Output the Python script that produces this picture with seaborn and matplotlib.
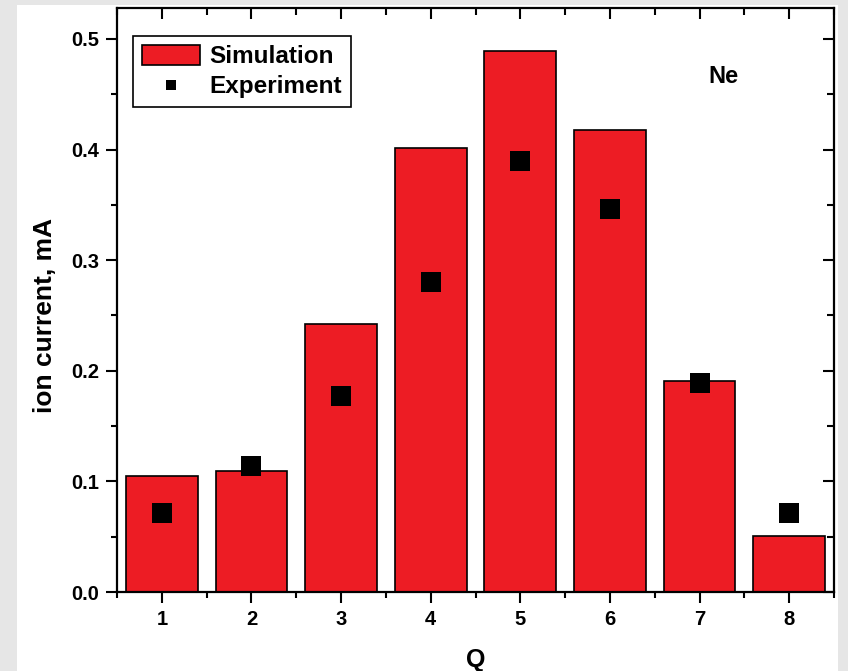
import matplotlib
matplotlib.use("Agg")
import matplotlib.pyplot as plt
from matplotlib.patches import Rectangle
from matplotlib.ticker import MultipleLocator, FormatStrFormatter
import seaborn as sns
import pandas as pd

# Charge states and ion currents (mA)
charge_states = [1, 2, 3, 4, 5, 6, 7, 8]
simulation = [0.105, 0.109, 0.242, 0.401, 0.489, 0.418, 0.191, 0.051]
experiment = [0.071, 0.114, 0.177, 0.280, 0.390, 0.346, 0.189, 0.071]

df = pd.DataFrame({"Q": charge_states, "sim": simulation, "exp": experiment})

sns.set_theme(style="white")
plt.rcParams["font.family"] = ["Liberation Sans", "DejaVu Sans"]
plt.rcParams["font.weight"] = "bold"
for key in ["text.color", "axes.labelcolor", "xtick.color", "ytick.color"]:
    plt.rcParams[key] = "black"

fig = plt.figure(figsize=(8.48, 6.71), dpi=100)
fig.patch.set_facecolor("#e6e6e6")
fig.patches.append(Rectangle((17 / 848, 0), (838 - 17) / 848, 1 - 5 / 671,
                             transform=fig.transFigure, facecolor="white",
                             edgecolor="none", zorder=-10))

ax = fig.add_axes([117 / 848, 79 / 671, (834 - 117) / 848, (592 - 8) / 671])
ax.set_facecolor("white")

sns.barplot(data=df, x="Q", y="sim", native_scale=True, width=0.8,
            color="#ED1C24", saturation=1, edgecolor="black", linewidth=1.2,
            ax=ax, label="Simulation", zorder=2)
sns.scatterplot(data=df, x="Q", y="exp", marker="s", s=210, color="black",
                linewidth=0, ax=ax, label="Experiment", zorder=3)

ax.set_xlim(0.5, 8.5)
ax.set_ylim(0, 0.528)

ax.xaxis.set_major_locator(MultipleLocator(1))
ax.xaxis.set_minor_locator(MultipleLocator(0.5))
ax.yaxis.set_major_locator(MultipleLocator(0.1))
ax.yaxis.set_minor_locator(MultipleLocator(0.05))
ax.yaxis.set_major_formatter(FormatStrFormatter("%.1f"))

ax.tick_params(which="major", direction="out", length=8, width=1.5,
               labelsize=14.5, pad=5, color="black", labelcolor="black",
               bottom=True, left=True)
ax.tick_params(which="minor", direction="out", length=4, width=1.5,
               color="black", bottom=True, left=True)
for lbl in ax.get_xticklabels() + ax.get_yticklabels():
    lbl.set_fontweight("bold")

for side in ["top", "bottom", "left", "right"]:
    ax.spines[side].set_visible(True)
    ax.spines[side].set_color("black")
    ax.spines[side].set_linewidth(1.6)

# Inward ticks along the top and right edges
top = ax.secondary_xaxis("top")
top.xaxis.set_major_locator(MultipleLocator(1))
top.xaxis.set_minor_locator(MultipleLocator(0.5))
top.tick_params(which="major", direction="in", length=8, width=1.5, labeltop=False)
top.tick_params(which="minor", direction="in", length=5, width=1.5)
top.spines["top"].set_visible(False)

right = ax.secondary_yaxis("right")
right.yaxis.set_major_locator(MultipleLocator(0.1))
right.yaxis.set_minor_locator(MultipleLocator(0.05))
right.tick_params(which="major", direction="in", length=8, width=1.5, labelright=False)
right.tick_params(which="minor", direction="in", length=5, width=1.5)
right.spines["right"].set_visible(False)

ax.set_xlabel("Q", fontsize=18, fontweight="bold", labelpad=14, color="black")
ax.set_ylabel("ion current, mA", fontsize=19, fontweight="bold", color="black")
ax.yaxis.set_label_coords(-0.083, 0.473)

ax.text(0.846, 0.882, "Ne", transform=ax.transAxes, fontsize=17,
        fontweight="bold", ha="center", va="center", color="black")

handles, labels = ax.get_legend_handles_labels()
order = [labels.index("Simulation"), labels.index("Experiment")]
leg = ax.legend([handles[i] for i in order], [labels[i] for i in order],
                loc="upper left",
                bbox_to_anchor=(16 / 717, 1 - 28 / 584), borderaxespad=0,
                fancybox=False, framealpha=1, edgecolor="black",
                prop={"family": "Liberation Sans", "weight": "bold", "size": 17.5},
                handlelength=2.4, handleheight=0.95, handletextpad=0.4,
                labelspacing=0.25, borderpad=0.35, markerscale=0.5)
leg.get_frame().set_linewidth(1.2)
for t in leg.get_texts():
    t.set_color("black")

fig.savefig("out.png", dpi=100, facecolor=fig.get_facecolor())
